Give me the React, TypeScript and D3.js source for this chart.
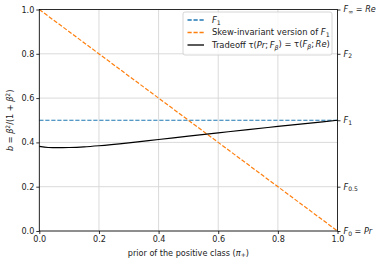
import React, { useRef, useEffect } from "react";
import * as d3 from "d3";

// prior of the positive class
const priors = [0, 0.03, 0.06, 0.1, 0.15, 0.2, 0.3, 0.4, 0.5, 0.6, 0.7, 0.8, 0.9, 1.0];
// tradeoff curve tau(Pr;F_b) = tau(F_b;Re)
const tradeoff = [0.382, 0.377, 0.376, 0.377, 0.38, 0.385, 0.398, 0.413, 0.428, 0.443, 0.458, 0.472, 0.486, 0.5];
const f1Values = [0.5, 0.5];
const skewValues = [1.0, 0.0];
const xTicks = [0, 0.2, 0.4, 0.6, 0.8, 1.0];
const yTicks = [0, 0.2, 0.4, 0.6, 0.8, 1.0];
// right axis: [b, main, subscript, suffix]
const rightTicks: [number, string, string, string][] = [
  [1.0, "F", "∞", "Re"],
  [0.8, "F", "2", ""],
  [0.5, "F", "1", ""],
  [0.2, "F", "0.5", ""],
  [0.0, "F", "0", "Pr"],
];

export default function App() {
  const svgRef = useRef<SVGSVGElement>(null);

  useEffect(() => {
    const svg = d3.select(svgRef.current);
    svg.selectAll("*").remove();

    const width = 381;
    const height = 264;
    const margin = { top: 9.5, right: 43.5, bottom: 33, left: 39.3 };
    const innerW = width - margin.left - margin.right;
    const innerH = height - margin.top - margin.bottom;
    const font = "DejaVu Sans, sans-serif";
    const fs = 8.1;
    const lfs = 8.4;

    const g = svg.append("g").attr("transform", `translate(${margin.left},${margin.top})`);

    const x = d3.scaleLinear().domain([0, 1]).range([0, innerW]);
    const y = d3.scaleLinear().domain([0, 1]).range([innerH, 0]);

    // grid
    g.append("g")
      .selectAll("line")
      .data(xTicks)
      .join("line")
      .attr("x1", (d) => x(d)).attr("x2", (d) => x(d))
      .attr("y1", 0).attr("y2", innerH)
      .attr("stroke", "#d6d6d6").attr("stroke-width", 0.9);
    g.append("g")
      .selectAll("line")
      .data(yTicks)
      .join("line")
      .attr("y1", (d) => y(d)).attr("y2", (d) => y(d))
      .attr("x1", 0).attr("x2", innerW)
      .attr("stroke", "#d6d6d6").attr("stroke-width", 0.9);

    const line = d3.line<[number, number]>().x((d) => x(d[0])).y((d) => y(d[1]));
    const dash = "4.2,1.8";

    g.append("path")
      .attr("d", line(f1Values.map((v, i) => [i, v] as [number, number])))
      .attr("fill", "none").attr("stroke", "#1f77b4")
      .attr("stroke-width", 1.2).attr("stroke-dasharray", dash);
    g.append("path")
      .attr("d", line(skewValues.map((v, i) => [i, v] as [number, number])))
      .attr("fill", "none").attr("stroke", "#ff7f0e")
      .attr("stroke-width", 1.2).attr("stroke-dasharray", dash);
    g.append("path")
      .attr("d", d3.line<number>().x((_, i) => x(priors[i])).y((d) => y(d)).curve(d3.curveMonotoneX)(tradeoff))
      .attr("fill", "none").attr("stroke", "#000")
      .attr("stroke-width", 1.2);

    // axes
    const bottom = g.append("g")
      .attr("transform", `translate(0,${innerH})`)
      .call(d3.axisBottom(x).tickValues(xTicks).tickFormat(d3.format(".1f")).tickSize(3).tickPadding(2));
    const left = g.append("g")
      .call(d3.axisLeft(y).tickValues(yTicks).tickFormat(d3.format(".1f")).tickSize(3).tickPadding(2));
    const right = g.append("g")
      .attr("transform", `translate(${innerW},0)`)
      .call(d3.axisRight(y).tickValues(rightTicks.map((d) => d[0])).tickFormat(() => "").tickSize(3));
    for (const ax of [bottom, left, right]) {
      ax.selectAll(".domain").remove();
      ax.selectAll("text").attr("font-family", font).attr("font-size", fs).attr("fill", "#222");
      ax.selectAll("line").attr("stroke", "#000").attr("stroke-width", 0.8);
    }

    // spines
    g.append("rect")
      .attr("width", innerW).attr("height", innerH)
      .attr("fill", "none").attr("stroke", "#000").attr("stroke-width", 0.8);

    // right tick labels
    rightTicks.forEach(([v, main, sub, suffix]) => {
      const t = g.append("text")
        .attr("x", innerW + 6).attr("y", y(v)).attr("dy", "0.35em")
        .attr("font-family", font).attr("font-size", fs).attr("fill", "#222");
      t.append("tspan").attr("font-style", "italic").text(main);
      t.append("tspan").attr("font-size", fs * 0.75).attr("dy", "0.3em").text(sub);
      if (suffix) {
        t.append("tspan").attr("dy", "-0.22em").text(" = ");
        t.append("tspan").attr("font-style", "italic").text(suffix);
      }
    });

    // axis labels
    const xl = svg.append("text")
      .attr("x", margin.left + innerW / 2).attr("y", 255.5)
      .attr("text-anchor", "middle")
      .attr("font-family", font).attr("font-size", fs).attr("fill", "#222");
    xl.append("tspan").text("prior of the positive class (");
    xl.append("tspan").attr("font-style", "italic").text("π");
    xl.append("tspan").attr("font-size", fs * 0.75).attr("dy", "0.3em").text("+");
    xl.append("tspan").attr("dy", "-0.22em").text(")");

    const yl = svg.append("text")
      .attr("transform", `translate(13,${margin.top + innerH / 2}) rotate(-90)`)
      .attr("text-anchor", "middle")
      .attr("font-family", font).attr("font-size", fs).attr("fill", "#222");
    yl.append("tspan").attr("font-style", "italic").text("b");
    yl.append("tspan").text(" = ");
    yl.append("tspan").attr("font-style", "italic").text("β");
    yl.append("tspan").attr("font-size", fs * 0.75).attr("dy", "-0.45em").text("2");
    yl.append("tspan").attr("dy", "0.34em").text("/(1 + ");
    yl.append("tspan").attr("font-style", "italic").text("β");
    yl.append("tspan").attr("font-size", fs * 0.75).attr("dy", "-0.45em").text("2");
    yl.append("tspan").attr("dy", "0.34em").text(")");

    // legend (absolute coordinates)
    const lg = svg.append("g").attr("transform", "translate(183,12)");
    lg.append("rect")
      .attr("width", 149).attr("height", 43).attr("rx", 2)
      .attr("fill", "rgba(255,255,255,0.8)").attr("stroke", "#ccc").attr("stroke-width", 0.8);
    const entries = [
      { color: "#1f77b4", dash: dash },
      { color: "#ff7f0e", dash: dash },
      { color: "#000", dash: null },
    ];
    const rowY = [8, 20.5, 33];
    entries.forEach((e, i) => {
      const l = lg.append("line")
        .attr("x1", 4.5).attr("x2", 21).attr("y1", rowY[i]).attr("y2", rowY[i])
        .attr("stroke", e.color).attr("stroke-width", 1.3);
      if (e.dash) l.attr("stroke-dasharray", e.dash);
    });
    const txt = (i: number) => lg.append("text")
      .attr("x", 29).attr("y", rowY[i]).attr("dy", "0.35em")
      .attr("font-family", font).attr("font-size", lfs).attr("fill", "#222");
    const t0 = txt(0);
    t0.append("tspan").attr("font-style", "italic").text("F");
    t0.append("tspan").attr("font-size", lfs * 0.75).attr("dy", "0.3em").text("1");
    const t1 = txt(1);
    t1.append("tspan").text("Skew-invariant version of ");
    t1.append("tspan").attr("font-style", "italic").text("F");
    t1.append("tspan").attr("font-size", lfs * 0.75).attr("dy", "0.3em").text("1");
    const t2 = txt(2);
    t2.append("tspan").text("Tradeoff τ(");
    t2.append("tspan").attr("font-style", "italic").text("Pr");
    t2.append("tspan").text(";");
    t2.append("tspan").attr("font-style", "italic").attr("dx", 1.5).text("F");
    t2.append("tspan").attr("font-size", lfs * 0.75).attr("font-style", "italic").attr("dy", "0.3em").text("β");
    t2.append("tspan").attr("dy", "-0.3em").text(") = τ(");
    t2.append("tspan").attr("font-style", "italic").text("F");
    t2.append("tspan").attr("font-size", lfs * 0.75).attr("font-style", "italic").attr("dy", "0.3em").text("β");
    t2.append("tspan").attr("dy", "-0.3em").text(";");
    t2.append("tspan").attr("font-style", "italic").attr("dx", 1.5).text("Re");
    t2.append("tspan").text(")");
  }, []);

  return <svg ref={svgRef} width={381} height={264} style={{ position: "absolute", left: 0, top: 0 }} />;
}
